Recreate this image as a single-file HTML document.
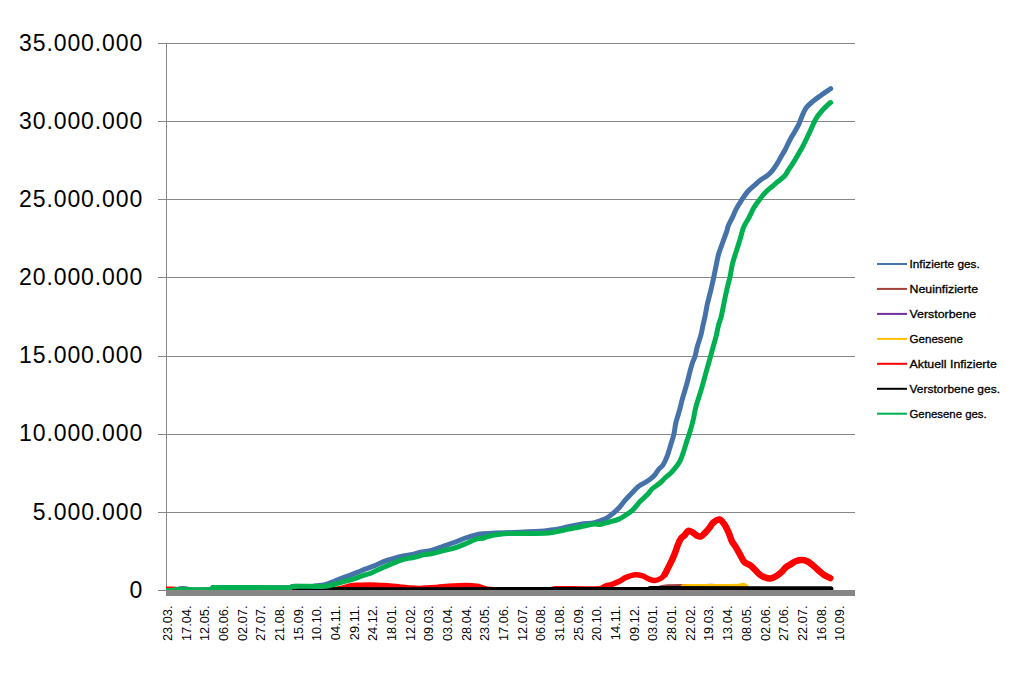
<!DOCTYPE html><html><head><meta charset="utf-8"><style>html,body{margin:0;padding:0;background:#fff;width:1018px;height:677px;overflow:hidden}svg{display:block}text{font-family:"Liberation Sans",sans-serif}</style></head><body>
<svg width="1018" height="677" viewBox="0 0 1018 677">
<rect width="1018" height="677" fill="#fff"/>
<g stroke="#868686" stroke-width="1" shape-rendering="crispEdges"><line x1="158" y1="590.5" x2="166" y2="590.5"/><line x1="158" y1="512.5" x2="855" y2="512.5"/><line x1="158" y1="434.5" x2="855" y2="434.5"/><line x1="158" y1="356.5" x2="855" y2="356.5"/><line x1="158" y1="277.5" x2="855" y2="277.5"/><line x1="158" y1="199.5" x2="855" y2="199.5"/><line x1="158" y1="121.5" x2="855" y2="121.5"/><line x1="158" y1="43.5" x2="855" y2="43.5"/><line x1="166.5" y1="43" x2="166.5" y2="591"/></g>
<defs><clipPath id="pa"><rect x="166" y="0" width="689" height="590"/></clipPath></defs><g clip-path="url(#pa)">
<path d="M163.00,590.20 C167.67,590.20 172.42,590.58 177.00,590.20 C178.08,590.11 178.93,588.97 180.00,588.80 C181.93,588.50 184.04,588.58 186.00,588.80 C187.04,588.92 187.95,589.77 189.00,589.80 C196.22,590.03 203.76,590.25 210.80,589.60 C211.76,589.51 212.02,587.62 213.00,587.60 C238.59,586.96 264.77,587.99 290.50,587.60 C291.27,587.59 291.73,586.44 292.50,586.40 C298.57,586.10 304.85,586.76 311.00,586.60 C312.55,586.56 314.06,585.99 315.60,585.80 C318.36,585.46 321.20,585.57 323.90,585.00 C326.27,584.50 328.52,583.45 330.80,582.60 C333.15,581.72 335.47,580.74 337.80,579.80 C340.10,578.87 342.38,577.87 344.70,577.00 C347.01,576.14 349.39,575.46 351.70,574.60 C354.02,573.73 356.31,572.75 358.60,571.80 C360.74,570.92 362.84,569.92 365.00,569.10 C368.27,567.86 371.65,566.90 374.90,565.60 C378.25,564.26 381.42,562.46 384.80,561.20 C388.02,560.00 391.37,559.11 394.70,558.20 C397.97,557.31 401.28,556.50 404.60,555.80 C407.88,555.10 411.24,554.76 414.50,554.00 C416.37,553.56 418.12,552.59 420.00,552.20 C423.75,551.42 427.69,551.43 431.40,550.50 C435.26,549.53 438.93,547.83 442.70,546.50 C446.50,545.16 450.33,543.91 454.10,542.50 C457.93,541.07 461.65,539.36 465.50,538.00 C468.62,536.90 471.79,535.88 475.00,535.10 C477.52,534.48 480.11,534.08 482.70,533.80 C486.95,533.34 491.23,533.08 495.50,532.90 C501.49,532.65 507.50,532.70 513.50,532.50 C520.37,532.27 527.23,531.91 534.10,531.60 C536.07,531.51 538.04,531.49 540.00,531.30 C544.54,530.86 549.09,530.41 553.60,529.70 C558.16,528.98 562.67,527.92 567.20,527.00 C571.74,526.08 576.23,524.91 580.80,524.20 C585.30,523.51 589.94,523.59 594.40,522.80 C596.34,522.46 598.16,521.53 600.00,520.80 C602.39,519.86 604.89,519.07 607.10,517.80 C609.23,516.57 611.10,514.88 613.00,513.30 C615.03,511.61 617.10,509.92 618.90,508.00 C621.03,505.72 622.74,503.06 624.80,500.70 C627.08,498.09 629.49,495.59 631.90,493.10 C634.23,490.69 636.37,488.03 639.00,486.00 C641.47,484.09 644.62,483.09 647.20,481.30 C649.72,479.55 652.19,477.60 654.30,475.40 C656.12,473.50 657.31,471.02 659.00,469.00 C660.21,467.56 662.00,466.57 663.00,465.00 C664.77,462.20 666.10,459.02 667.30,455.90 C668.63,452.42 669.51,448.77 670.60,445.20 C671.71,441.57 673.03,437.99 673.90,434.30 C674.70,430.89 674.83,427.32 675.60,423.90 C676.40,420.32 677.60,416.83 678.60,413.30 C679.14,411.40 679.70,409.51 680.20,407.60 C680.97,404.68 681.59,401.71 682.40,398.80 C683.79,393.84 685.43,388.96 686.80,384.00 C687.89,380.06 688.73,376.05 689.80,372.10 C690.73,368.65 691.66,365.19 692.80,361.80 C693.40,360.02 694.47,358.40 695.00,356.60 C695.93,353.46 696.33,350.16 697.20,347.00 C698.30,343.00 699.83,339.11 700.90,335.10 C701.80,331.71 702.34,328.23 703.10,324.80 C703.67,322.23 704.37,319.68 704.90,317.10 C705.77,312.82 706.36,308.47 707.30,304.20 C708.26,299.84 709.56,295.55 710.60,291.20 C711.73,286.48 712.78,281.74 713.80,277.00 C714.65,273.08 715.37,269.13 716.20,265.20 C717.00,261.39 717.63,257.53 718.70,253.80 C719.80,249.97 721.36,246.26 722.70,242.50 C724.06,238.70 725.53,234.93 726.80,231.10 C727.33,229.50 727.46,227.76 728.10,226.20 C729.26,223.36 730.88,220.69 732.20,217.90 C733.65,214.82 734.81,211.60 736.40,208.60 C737.91,205.73 739.70,203.00 741.50,200.30 C743.50,197.30 745.44,194.21 747.80,191.50 C749.94,189.04 752.57,187.00 755.00,184.80 C757.03,182.96 759.01,181.03 761.20,179.40 C762.81,178.20 764.79,177.50 766.40,176.30 C768.22,174.94 770.01,173.42 771.50,171.70 C773.44,169.45 775.09,166.91 776.70,164.40 C778.19,162.08 779.42,159.59 780.80,157.20 C782.19,154.79 783.70,152.46 785.00,150.00 C786.80,146.59 788.30,143.01 790.10,139.60 C791.40,137.14 792.91,134.81 794.30,132.40 C795.68,130.01 797.17,127.66 798.40,125.20 C799.23,123.53 799.76,121.72 800.50,120.00 C802.12,116.25 803.28,112.16 805.50,108.80 C807.38,105.96 810.19,103.66 812.80,101.40 C815.59,98.99 818.70,96.95 821.70,94.80 C824.37,92.89 827.10,91.06 829.80,89.20 C830.10,89.00 830.40,88.80 830.70,88.60" fill="none" stroke="#4672AA" stroke-width="5" stroke-linejoin="round" stroke-linecap="round"/>
<path d="M660.00,588.00 C662.67,587.60 665.31,586.93 668.00,586.80 C674.65,586.47 681.34,586.45 688.00,586.60 C692.01,586.69 696.01,587.52 700.00,587.50 C702.01,587.49 703.98,586.63 706.00,586.50 C708.98,586.30 712.02,586.26 715.00,586.50 C718.35,586.76 721.67,587.50 725.00,588.00" fill="none" stroke="#A0403C" stroke-width="5" stroke-linejoin="round" stroke-linecap="round"/>
<path d="M683.00,586.70 C688.67,586.63 694.33,586.54 700.00,586.50 C712.67,586.41 725.36,586.65 738.00,586.30 C739.70,586.25 741.37,585.26 743.00,585.30 C744.03,585.33 745.00,586.10 746.00,586.50" fill="none" stroke="#FFC000" stroke-width="5" stroke-linejoin="round" stroke-linecap="round"/>
<path d="M163.00,589.40 C167.33,589.40 171.71,589.07 176.00,589.40 C177.71,589.53 179.27,590.79 181.00,590.80 C227.27,591.15 273.67,590.77 320.00,590.50 C324.30,590.47 328.62,590.30 332.90,589.90 C335.70,589.64 338.50,589.11 341.25,588.50 C344.77,587.71 348.17,586.35 351.70,585.70 C353.95,585.28 356.30,585.40 358.60,585.30 C362.40,585.13 366.20,584.88 370.00,584.90 C373.30,584.92 376.60,585.23 379.90,585.40 C383.20,585.57 386.51,585.65 389.80,585.90 C393.11,586.15 396.40,586.57 399.70,586.90 C403.00,587.23 406.29,587.65 409.60,587.90 C412.89,588.15 416.20,588.46 419.50,588.40 C425.33,588.29 431.17,587.83 437.00,587.40 C440.81,587.12 444.59,586.50 448.40,586.25 C454.09,585.87 459.80,585.50 465.50,585.50 C469.27,585.50 473.09,585.63 476.80,586.25 C481.26,587.00 485.49,589.38 490.00,589.60 C509.89,590.56 530.03,590.05 550.00,589.80 C551.70,589.78 553.30,588.84 555.00,588.80 C569.97,588.47 585.16,589.44 600.00,588.70 C601.83,588.61 603.27,586.93 605.00,586.30 C607.27,585.47 609.72,585.11 612.00,584.30 C614.72,583.34 617.42,582.28 620.00,581.00 C621.92,580.04 623.52,578.41 625.50,577.60 C628.56,576.34 631.86,575.12 635.10,574.80 C637.56,574.56 640.21,575.17 642.60,575.90 C644.81,576.57 646.74,578.13 648.90,579.00 C650.64,579.70 652.51,580.68 654.30,580.60 C656.41,580.51 658.75,579.60 660.60,578.50 C662.28,577.50 663.76,575.91 664.90,574.30 C666.26,572.38 667.04,570.04 668.10,567.90 C669.51,565.07 671.00,562.28 672.30,559.40 C673.47,556.81 674.48,554.15 675.50,551.50 C676.52,548.85 677.29,546.10 678.40,543.50 C679.19,541.64 680.02,539.70 681.20,538.10 C681.99,537.03 683.35,536.45 684.30,535.50 C685.75,534.05 686.79,531.50 688.40,530.90 C689.56,530.47 691.31,531.69 692.60,532.40 C694.08,533.22 695.20,534.76 696.70,535.50 C697.96,536.12 699.68,536.88 700.90,536.50 C702.44,536.02 703.72,534.18 705.00,532.90 C706.45,531.45 707.81,529.90 709.10,528.30 C710.58,526.46 711.55,524.08 713.30,522.60 C715.01,521.15 717.65,519.17 719.50,519.50 C721.42,519.84 723.25,522.65 724.60,524.60 C726.35,527.12 727.55,530.07 728.80,532.90 C729.99,535.60 730.59,538.57 731.90,541.20 C732.99,543.41 734.71,545.29 736.00,547.40 C737.44,549.75 738.73,552.20 740.10,554.60 C741.49,557.04 742.41,559.96 744.30,561.90 C746.01,563.66 748.95,564.10 750.90,565.70 C754.12,568.34 756.65,571.88 759.80,574.60 C761.05,575.68 762.57,576.52 764.10,577.10 C766.07,577.85 768.29,578.78 770.30,578.60 C772.42,578.41 774.59,577.13 776.50,576.00 C778.39,574.89 780.09,573.40 781.70,571.90 C783.23,570.47 784.31,568.54 785.90,567.20 C787.41,565.94 789.30,565.13 791.00,564.10 C792.73,563.06 794.33,561.67 796.20,561.00 C798.13,560.30 800.36,559.91 802.40,560.00 C804.16,560.08 806.01,560.70 807.60,561.50 C809.45,562.43 811.07,563.88 812.70,565.20 C814.50,566.65 816.15,568.29 817.90,569.80 C819.95,571.56 821.87,573.51 824.10,575.00 C826.01,576.28 828.23,577.07 830.30,578.10" fill="none" stroke="#FF0000" stroke-width="5.5" stroke-linejoin="round" stroke-linecap="round"/>
<path d="M664.90,574.30 C665.97,572.17 667.04,570.04 668.10,567.90 C669.51,565.07 671.00,562.28 672.30,559.40 C673.47,556.81 674.48,554.15 675.50,551.50 C676.52,548.85 677.29,546.10 678.40,543.50 C679.19,541.64 680.02,539.70 681.20,538.10 C681.99,537.03 683.35,536.45 684.30,535.50 C685.75,534.05 686.79,531.50 688.40,530.90 C689.56,530.47 691.31,531.69 692.60,532.40 C694.08,533.22 695.20,534.76 696.70,535.50 C697.96,536.12 699.68,536.88 700.90,536.50 C702.44,536.02 703.72,534.18 705.00,532.90 C706.45,531.45 707.81,529.90 709.10,528.30 C710.58,526.46 711.55,524.08 713.30,522.60 C715.01,521.15 717.65,519.17 719.50,519.50 C721.42,519.84 723.25,522.65 724.60,524.60 C726.35,527.12 727.55,530.07 728.80,532.90 C729.99,535.60 730.59,538.57 731.90,541.20 C732.99,543.41 734.71,545.29 736.00,547.40 C737.44,549.75 738.73,552.20 740.10,554.60 C741.49,557.04 742.41,559.96 744.30,561.90 C746.01,563.66 748.95,564.10 750.90,565.70 C754.12,568.34 756.65,571.88 759.80,574.60 C761.05,575.68 762.57,576.52 764.10,577.10 C766.07,577.85 768.29,578.78 770.30,578.60 C772.42,578.41 774.59,577.13 776.50,576.00 C778.39,574.89 780.09,573.40 781.70,571.90 C783.23,570.47 784.31,568.54 785.90,567.20 C787.41,565.94 789.30,565.13 791.00,564.10 C792.73,563.06 794.33,561.67 796.20,561.00 C798.13,560.30 800.36,559.91 802.40,560.00 C804.16,560.08 806.01,560.70 807.60,561.50 C809.45,562.43 811.07,563.88 812.70,565.20 C814.50,566.65 816.15,568.29 817.90,569.80 C819.95,571.56 821.87,573.51 824.10,575.00 C826.01,576.28 828.23,577.07 830.30,578.10" fill="none" stroke="#FF0000" stroke-width="6.5" stroke-linejoin="round" stroke-linecap="round"/>
<path d="M293.00,589.60 C411.33,589.57 529.73,589.83 648.00,589.50 C648.73,589.50 649.27,588.60 650.00,588.60 C710.27,588.37 770.67,588.73 831.00,588.80" fill="none" stroke="#000000" stroke-width="5" stroke-linejoin="round" stroke-linecap="round"/>
<path d="M163.00,590.40 C166.67,590.40 170.38,590.62 174.00,590.40 C174.71,590.36 175.28,589.62 176.00,589.60 C187.55,589.35 199.44,590.21 210.80,589.60 C211.77,589.55 212.02,587.62 213.00,587.60 C238.59,586.96 264.77,587.99 290.50,587.60 C291.27,587.59 291.73,586.43 292.50,586.40 C302.06,586.03 311.85,586.64 321.50,586.40 C324.35,586.33 327.21,586.02 330.00,585.45 C334.05,584.62 338.01,583.31 342.00,582.20 C346.01,581.09 350.04,580.05 354.00,578.80 C357.04,577.85 359.98,576.60 363.00,575.60 C365.31,574.83 367.72,574.34 370.00,573.50 C371.69,572.88 373.26,571.94 374.90,571.20 C378.19,569.71 381.49,568.24 384.80,566.80 C388.09,565.37 391.36,563.88 394.70,562.60 C397.96,561.35 401.24,560.10 404.60,559.20 C407.84,558.33 411.23,558.06 414.50,557.30 C417.83,556.53 421.06,555.29 424.40,554.60 C426.69,554.13 429.11,554.28 431.40,553.80 C435.21,553.01 438.92,551.75 442.70,550.80 C446.49,549.85 450.37,549.24 454.10,548.10 C457.97,546.91 461.74,545.34 465.50,543.80 C469.31,542.24 472.92,540.04 476.80,538.80 C478.66,538.21 480.78,538.70 482.70,538.30 C484.45,537.93 486.05,536.92 487.80,536.50 C491.19,535.69 494.65,535.09 498.10,534.60 C501.51,534.12 504.95,533.70 508.40,533.60 C520.59,533.24 532.82,533.58 545.00,533.20 C547.88,533.11 550.76,532.69 553.60,532.20 C558.16,531.42 562.66,530.32 567.20,529.40 C571.73,528.48 576.27,527.60 580.80,526.70 C585.33,525.80 589.84,524.55 594.40,524.00 C596.24,523.78 598.17,524.64 600.00,524.40 C603.17,523.98 606.29,522.87 609.40,522.00 C612.59,521.11 615.88,520.39 618.90,519.10 C621.41,518.03 623.72,516.43 626.00,514.90 C628.45,513.26 630.98,511.63 633.10,509.60 C635.71,507.10 637.69,503.93 640.20,501.30 C642.39,499.00 645.00,497.09 647.20,494.80 C648.93,492.99 650.17,490.69 652.00,489.00 C654.43,486.76 657.46,485.15 660.00,483.00 C661.79,481.48 663.28,479.61 665.00,478.00 C667.25,475.88 669.86,474.10 671.90,471.80 C674.82,468.50 677.75,465.02 679.90,461.20 C681.75,457.92 682.67,454.10 683.90,450.50 C685.10,447.00 686.05,443.42 687.20,439.90 C687.82,438.02 688.63,436.20 689.20,434.30 C690.63,429.56 692.03,424.81 693.20,420.00 C694.20,415.91 694.62,411.67 695.70,407.60 C697.42,401.14 699.72,394.82 701.60,388.40 C703.18,382.99 704.58,377.53 706.10,372.10 C707.55,366.93 709.06,361.77 710.50,356.60 C711.53,352.91 712.49,349.20 713.50,345.50 C714.45,342.03 715.54,338.59 716.40,335.10 C717.24,331.69 717.71,328.19 718.60,324.80 C719.28,322.19 720.46,319.72 721.10,317.10 C722.40,311.75 723.26,306.29 724.40,300.90 C725.43,296.03 726.46,291.15 727.60,286.30 C728.33,283.18 729.32,280.13 730.00,277.00 C730.96,272.56 731.42,268.00 732.50,263.60 C733.58,259.20 735.15,254.93 736.50,250.60 C737.85,246.26 739.28,241.95 740.60,237.60 C741.65,234.15 742.22,230.51 743.60,227.20 C744.96,223.94 747.14,221.04 748.80,217.90 C750.60,214.50 752.06,210.91 754.00,207.60 C755.50,205.04 757.34,202.69 759.10,200.30 C760.77,198.02 762.39,195.67 764.30,193.60 C766.19,191.54 768.40,189.76 770.50,187.90 C772.87,185.80 775.29,183.76 777.70,181.70 C780.13,179.63 782.85,177.81 785.00,175.50 C786.29,174.11 786.96,172.21 788.00,170.60 C789.36,168.51 790.87,166.51 792.20,164.40 C794.34,161.01 796.37,157.55 798.40,154.10 C799.80,151.72 801.24,149.36 802.50,146.90 C805.07,141.89 807.47,136.78 809.90,131.70 C811.90,127.52 813.51,123.11 815.80,119.10 C817.45,116.21 819.52,113.52 821.70,111.00 C824.19,108.12 827.04,105.51 829.80,102.90 C830.04,102.68 830.40,102.63 830.70,102.50" fill="none" stroke="#00B050" stroke-width="5" stroke-linejoin="round" stroke-linecap="round"/>
</g>
<rect x="166" y="590" width="689" height="6" fill="#868686"/>
<text x="143.2" y="597.6" font-size="23" text-anchor="end" letter-spacing="0.9" fill="#000">0</text>
<text x="143.2" y="519.5" font-size="23" text-anchor="end" letter-spacing="0.9" fill="#000">5.000.000</text>
<text x="143.2" y="441.3" font-size="23" text-anchor="end" letter-spacing="0.9" fill="#000">10.000.000</text>
<text x="143.2" y="363.2" font-size="23" text-anchor="end" letter-spacing="0.9" fill="#000">15.000.000</text>
<text x="143.2" y="285.0" font-size="23" text-anchor="end" letter-spacing="0.9" fill="#000">20.000.000</text>
<text x="143.2" y="206.9" font-size="23" text-anchor="end" letter-spacing="0.9" fill="#000">25.000.000</text>
<text x="143.2" y="128.7" font-size="23" text-anchor="end" letter-spacing="0.9" fill="#000">30.000.000</text>
<text x="143.2" y="50.6" font-size="23" text-anchor="end" letter-spacing="0.9" fill="#000">35.000.000</text>
<text transform="translate(171.90,605.5) rotate(-90)" font-size="12.8" text-anchor="end" fill="#000">23.03.</text>
<text transform="translate(190.58,605.5) rotate(-90)" font-size="12.8" text-anchor="end" fill="#000">17.04.</text>
<text transform="translate(209.25,605.5) rotate(-90)" font-size="12.8" text-anchor="end" fill="#000">12.05.</text>
<text transform="translate(227.93,605.5) rotate(-90)" font-size="12.8" text-anchor="end" fill="#000">06.06.</text>
<text transform="translate(246.60,605.5) rotate(-90)" font-size="12.8" text-anchor="end" fill="#000">02.07.</text>
<text transform="translate(265.27,605.5) rotate(-90)" font-size="12.8" text-anchor="end" fill="#000">27.07.</text>
<text transform="translate(283.95,605.5) rotate(-90)" font-size="12.8" text-anchor="end" fill="#000">21.08.</text>
<text transform="translate(302.62,605.5) rotate(-90)" font-size="12.8" text-anchor="end" fill="#000">15.09.</text>
<text transform="translate(321.30,605.5) rotate(-90)" font-size="12.8" text-anchor="end" fill="#000">10.10.</text>
<text transform="translate(339.98,605.5) rotate(-90)" font-size="12.8" text-anchor="end" fill="#000">04.11.</text>
<text transform="translate(358.65,605.5) rotate(-90)" font-size="12.8" text-anchor="end" fill="#000">29.11.</text>
<text transform="translate(377.33,605.5) rotate(-90)" font-size="12.8" text-anchor="end" fill="#000">24.12.</text>
<text transform="translate(396.00,605.5) rotate(-90)" font-size="12.8" text-anchor="end" fill="#000">18.01.</text>
<text transform="translate(414.68,605.5) rotate(-90)" font-size="12.8" text-anchor="end" fill="#000">12.02.</text>
<text transform="translate(433.35,605.5) rotate(-90)" font-size="12.8" text-anchor="end" fill="#000">09.03.</text>
<text transform="translate(452.02,605.5) rotate(-90)" font-size="12.8" text-anchor="end" fill="#000">03.04.</text>
<text transform="translate(470.70,605.5) rotate(-90)" font-size="12.8" text-anchor="end" fill="#000">28.04.</text>
<text transform="translate(489.38,605.5) rotate(-90)" font-size="12.8" text-anchor="end" fill="#000">23.05.</text>
<text transform="translate(508.05,605.5) rotate(-90)" font-size="12.8" text-anchor="end" fill="#000">17.06.</text>
<text transform="translate(526.73,605.5) rotate(-90)" font-size="12.8" text-anchor="end" fill="#000">12.07.</text>
<text transform="translate(545.40,605.5) rotate(-90)" font-size="12.8" text-anchor="end" fill="#000">06.08.</text>
<text transform="translate(564.08,605.5) rotate(-90)" font-size="12.8" text-anchor="end" fill="#000">31.08.</text>
<text transform="translate(582.75,605.5) rotate(-90)" font-size="12.8" text-anchor="end" fill="#000">25.09.</text>
<text transform="translate(601.43,605.5) rotate(-90)" font-size="12.8" text-anchor="end" fill="#000">20.10.</text>
<text transform="translate(620.10,605.5) rotate(-90)" font-size="12.8" text-anchor="end" fill="#000">14.11.</text>
<text transform="translate(638.77,605.5) rotate(-90)" font-size="12.8" text-anchor="end" fill="#000">09.12.</text>
<text transform="translate(657.45,605.5) rotate(-90)" font-size="12.8" text-anchor="end" fill="#000">03.01.</text>
<text transform="translate(676.12,605.5) rotate(-90)" font-size="12.8" text-anchor="end" fill="#000">28.01.</text>
<text transform="translate(694.80,605.5) rotate(-90)" font-size="12.8" text-anchor="end" fill="#000">22.02.</text>
<text transform="translate(713.48,605.5) rotate(-90)" font-size="12.8" text-anchor="end" fill="#000">19.03.</text>
<text transform="translate(732.15,605.5) rotate(-90)" font-size="12.8" text-anchor="end" fill="#000">13.04.</text>
<text transform="translate(750.83,605.5) rotate(-90)" font-size="12.8" text-anchor="end" fill="#000">08.05.</text>
<text transform="translate(769.50,605.5) rotate(-90)" font-size="12.8" text-anchor="end" fill="#000">02.06.</text>
<text transform="translate(788.17,605.5) rotate(-90)" font-size="12.8" text-anchor="end" fill="#000">27.06.</text>
<text transform="translate(806.85,605.5) rotate(-90)" font-size="12.8" text-anchor="end" fill="#000">22.07.</text>
<text transform="translate(825.52,605.5) rotate(-90)" font-size="12.8" text-anchor="end" fill="#000">16.08.</text>
<text transform="translate(844.20,605.5) rotate(-90)" font-size="12.8" text-anchor="end" fill="#000">10.09.</text>
<line x1="877" y1="264.0" x2="907" y2="264.0" stroke="#4672AA" stroke-width="2"/>
<text x="909.5" y="268.3" font-size="11.6" textLength="70.29" lengthAdjust="spacingAndGlyphs" fill="#000" stroke="#000" stroke-width="0.3">Infizierte ges.</text>
<line x1="877" y1="288.9" x2="907" y2="288.9" stroke="#A0403C" stroke-width="2"/>
<text x="909.5" y="293.2" font-size="11.6" textLength="68.67" lengthAdjust="spacingAndGlyphs" fill="#000" stroke="#000" stroke-width="0.3">Neuinfizierte</text>
<line x1="877" y1="313.9" x2="907" y2="313.9" stroke="#7030A0" stroke-width="2"/>
<text x="909.5" y="318.2" font-size="11.6" textLength="66.75" lengthAdjust="spacingAndGlyphs" fill="#000" stroke="#000" stroke-width="0.3">Verstorbene</text>
<line x1="877" y1="338.9" x2="907" y2="338.9" stroke="#FFC000" stroke-width="2"/>
<text x="909.5" y="343.2" font-size="11.6" textLength="53.53" lengthAdjust="spacingAndGlyphs" fill="#000" stroke="#000" stroke-width="0.3">Genesene</text>
<line x1="877" y1="363.8" x2="907" y2="363.8" stroke="#FF0000" stroke-width="2"/>
<text x="909.5" y="368.1" font-size="11.6" textLength="87.28" lengthAdjust="spacingAndGlyphs" fill="#000" stroke="#000" stroke-width="0.3">Aktuell Infizierte</text>
<line x1="877" y1="388.8" x2="907" y2="388.8" stroke="#000000" stroke-width="2"/>
<text x="909.5" y="393.1" font-size="11.6" textLength="90.5" lengthAdjust="spacingAndGlyphs" fill="#000" stroke="#000" stroke-width="0.3">Verstorbene ges.</text>
<line x1="877" y1="413.7" x2="907" y2="413.7" stroke="#00B050" stroke-width="2"/>
<text x="909.5" y="418.0" font-size="11.6" textLength="77.18" lengthAdjust="spacingAndGlyphs" fill="#000" stroke="#000" stroke-width="0.3">Genesene ges.</text>
</svg></body></html>
